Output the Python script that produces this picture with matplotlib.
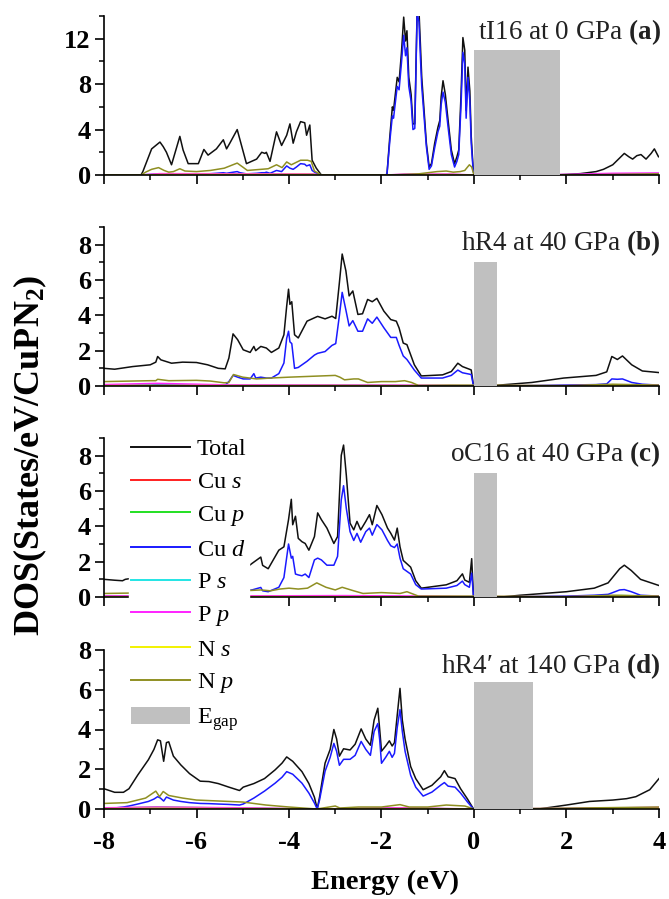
import numpy as np
import matplotlib
matplotlib.use('Agg')
import matplotlib.pyplot as plt
from matplotlib.lines import Line2D
from matplotlib.patches import Patch
from matplotlib.ticker import MultipleLocator

plt.rcParams['font.family'] = ['Liberation Serif', 'DejaVu Serif']
plt.rcParams['mathtext.fontset'] = 'custom'
plt.rcParams['mathtext.rm'] = 'Liberation Serif'
plt.rcParams['mathtext.it'] = 'Liberation Serif:italic'
plt.rcParams['mathtext.bf'] = 'Liberation Serif:bold'
plt.rcParams['axes.unicode_minus'] = False

# ---------------- panel (a) tI16 at 0 GPa ----------------
e_a = [-8.0, -7.2, -7.16, -6.97, -6.79, -6.72, -6.65, -6.61, -6.54, -6.36, -6.29, -6.18,
       -5.96, -5.84, -5.75, -5.57, -5.42, -5.35, -5.28, -5.12, -5.06, -4.92, -4.70, -4.59,
       -4.52, -4.49, -4.41, -4.27, -4.16, -4.05, -3.98, -3.91, -3.84, -3.75, -3.66, -3.62,
       -3.55, -3.50, -3.41, -3.30, -1.90, -1.88, -1.82, -1.765, -1.74, -1.66, -1.62, -1.57,
       -1.52, -1.48, -1.45, -1.41, -1.36, -1.32, -1.28, -1.23, -1.19, -1.16, -1.13, -1.09,
       -1.03, -0.97, -0.92, -0.85, -0.78, -0.74, -0.71, -0.67, -0.62, -0.56, -0.49, -0.42,
       -0.37, -0.33, -0.28, -0.24, -0.20, -0.17, -0.13, -0.09, -0.06, -0.02, 0.0, 1.7,
       2.0, 2.3, 2.64, 2.8, 3.0, 3.1, 3.25, 3.35, 3.43, 3.52, 3.61, 3.72, 3.83, 3.90, 3.99, 4.0]
tot_a = [0, 0, 0.3, 2.3, 2.9, 2.5, 2.0, 1.6, 0.9, 3.4, 2.2, 1.0,
         1.0, 2.25, 1.75, 2.3, 3.1, 2.3, 2.8, 4.0, 3.1, 1.0, 1.4, 2.0,
         1.9, 2.0, 1.2, 3.8, 2.6, 3.5, 4.5, 2.8, 3.8, 4.7, 4.6, 3.5,
         4.4, 1.3, 0.6, 0, 0, 0.15, 3.4, 6.0, 5.7, 8.6, 8.2, 10.7,
         13.9, 11.8, 12.7, 8.6, 7.1, 4.5, 4.5, 14.5, 14.5, 11.6, 8.6, 6.3,
         2.8, 0.73, 1.0, 2.8, 4.2, 4.8, 6.9, 8.3, 7.1, 4.8, 2.2, 1.0,
         1.6, 2.2, 7.1, 12.1, 11.0, 5.7, 9.5, 7.4, 3.4, 0.7, 0, 0,
         0.05, 0.12, 0.3, 0.5, 0.9, 1.3, 1.9, 1.6, 1.4, 1.7, 1.8, 1.4, 1.9, 2.3, 1.6, 1.6]
cud_a = [0, 0, 0.02, 0.05, 0.08, 0.06, 0.05, 0.05, 0.04, 0.1, 0.08, 0.05,
         0.05, 0.1, 0.1, 0.15, 0.2, 0.15, 0.2, 0.3, 0.2, 0.1, 0.15, 0.2,
         0.2, 0.25, 0.15, 0.4, 0.3, 0.8, 0.6, 0.5, 0.7, 1.0, 0.95, 0.8,
         0.9, 0.4, 0.15, 0, 0, 0.15, 3.0, 5.2, 5.0, 7.8, 7.5, 9.8,
         12.3, 10.5, 11.2, 7.8, 6.5, 4.0, 4.1, 14.2, 13.5, 10.5, 7.8, 5.7,
         2.5, 0.5, 0.8, 2.4, 3.8, 4.3, 6.2, 7.3, 6.4, 4.2, 1.8, 0.7,
         1.2, 1.8, 6.2, 10.8, 9.8, 5.0, 8.6, 6.5, 2.8, 0.5, 0, 0,
         0.0, 0.01, 0.02, 0.03, 0.05, 0.06, 0.08, 0.07, 0.06, 0.07, 0.07, 0.06, 0.07, 0.08, 0.07, 0.07]
e_np_a = [-8.0, -7.2, -7.1, -6.97, -6.82, -6.7, -6.6, -6.5, -6.36, -6.25, -6.0, -5.7, -5.4,
          -5.12, -5.0, -4.9, -4.6, -4.45, -4.27, -4.15, -4.05, -3.95, -3.85, -3.75, -3.6,
          -3.52, -3.45, -3.3, -1.9, -1.5, -1.2, -1.0, -0.8, -0.6, -0.45, -0.3, -0.2, -0.1,
          -0.05, 0.0, 2.0, 3.0, 4.0]
np_a = [0, 0, 0.25, 0.5, 0.65, 0.4, 0.25, 0.3, 0.55, 0.35, 0.3, 0.4, 0.6,
        1.05, 0.7, 0.4, 0.5, 0.55, 0.9, 0.65, 1.15, 0.9, 1.1, 1.3, 1.3,
        1.2, 0.35, 0, 0, 0.05, 0.1, 0.2, 0.3, 0.35, 0.25, 0.3, 0.4, 0.9,
        0.7, 0, 0, 0.05, 0.1]
e_sm_a = [-8, -7.2, -6.8, -3.5, -3.3, -1.9, -1.5, -0.5, 0.0, 2.0, 3.0, 4.0]
cus_a = [0, 0, 0.02, 0.03, 0, 0, 0.02, 0.03, 0, 0.01, 0.03, 0.04]
cup_a = [0, 0, 0.02, 0.04, 0, 0, 0.03, 0.04, 0, 0.02, 0.08, 0.12]
ps_a = [0, 0, 0.03, 0.04, 0, 0, 0.02, 0.02, 0, 0.01, 0.03, 0.04]
pp_a = [0, 0, 0.12, 0.1, 0, 0, 0.08, 0.08, 0, 0.05, 0.15, 0.18]
ns_a = [0, 0, 0.04, 0.05, 0, 0, 0.02, 0.03, 0, 0.01, 0.02, 0.03]

# ---------------- panel (b) hR4 at 40 GPa ----------------
e_b = [-8.0, -7.77, -7.38, -7.0, -6.88, -6.84, -6.77, -6.54, -6.30, -6.0, -5.76, -5.53,
       -5.38, -5.30, -5.21, -5.11, -4.99, -4.84, -4.76, -4.72, -4.61, -4.49, -4.38, -4.22,
       -4.11, -4.05, -4.01, -3.98, -3.94, -3.88, -3.80, -3.61, -3.45, -3.38, -3.22, -3.07,
       -2.99, -2.91, -2.85, -2.77, -2.70, -2.62, -2.51, -2.41, -2.30, -2.20, -2.10, -1.95,
       -1.80, -1.68, -1.62, -1.53, -1.45, -1.29, -1.14, -0.68, -0.49, -0.35, -0.25, -0.06,
       -0.01, 0.3, 1.25, 1.94, 2.64, 2.87, 2.98, 3.10, 3.21, 3.41, 3.64, 4.0]
tot_b = [1.0, 0.95, 1.1, 1.2, 1.35, 1.67, 1.48, 1.29, 1.35, 1.33, 1.2, 1.0,
         0.97, 1.58, 2.95, 2.62, 2.05, 1.9, 2.24, 2.0, 2.24, 2.15, 1.9, 2.15,
         2.9, 4.52, 5.48, 4.62, 4.77, 2.9, 2.72, 3.67, 3.86, 3.94, 3.8, 3.95,
         3.82, 5.86, 7.47, 6.52, 5.1, 5.38, 4.05, 4.09, 4.9, 4.77, 4.96, 4.24,
         3.76, 3.67, 3.29, 2.43, 2.34, 1.2, 0.57, 0.63, 0.82, 1.29, 1.1, 0.91,
         0.0, 0.0, 0.2, 0.45, 0.6, 0.8, 1.67, 1.5, 1.7, 1.2, 0.85, 0.76]
cud_b = [0.03, 0.03, 0.04, 0.05, 0.08, 0.1, 0.08, 0.06, 0.06, 0.05, 0.05, 0.05,
         0.05, 0.25, 0.6, 0.5, 0.4, 0.4, 0.7, 0.45, 0.5, 0.45, 0.45, 0.7,
         1.3, 2.7, 3.1, 2.5, 2.4, 1.0, 1.05, 1.4, 1.75, 1.85, 1.95, 2.3,
         2.4, 4.0, 5.3, 4.3, 3.4, 3.7, 3.1, 3.1, 3.8, 3.55, 3.9, 3.3,
         2.75, 2.75, 2.3, 1.7, 1.5, 0.9, 0.45, 0.45, 0.6, 0.9, 0.75, 0.65,
         0.0, 0.0, 0.02, 0.05, 0.08, 0.12, 0.4, 0.38, 0.4, 0.2, 0.1, 0.05]
e_np_b = [-8, -7.0, -6.88, -6.84, -6.6, -6.0, -5.7, -5.4, -5.3, -5.2, -5.0, -4.7, -4.4, -4.0,
          -3.5, -3.0, -2.9, -2.8, -2.6, -2.5, -2.4, -2.3, -2.0, -1.7, -1.5, -1.35, -1.2, -0.5,
          0.0, 2.0, 3.0, 4.0]
np_b = [0.25, 0.3, 0.3, 0.38, 0.3, 0.32, 0.28, 0.18, 0.2, 0.65, 0.5, 0.4, 0.45, 0.5,
        0.55, 0.6, 0.5, 0.35, 0.4, 0.4, 0.3, 0.2, 0.25, 0.25, 0.3, 0.2, 0.03, 0.05,
        0.05, 0.02, 0.1, 0.05]
e_sm_b = [-8, -6.85, -5.3, -3.0, -1.2, 0.0, 2.0, 3.2, 4.0]
cus_b = [0.02, 0.03, 0.02, 0.03, 0.02, 0.01, 0.01, 0.03, 0.02]
cup_b = [0.03, 0.04, 0.03, 0.04, 0.02, 0.01, 0.02, 0.06, 0.04]
ps_b = [0.02, 0.03, 0.02, 0.02, 0.01, 0.01, 0.01, 0.02, 0.02]
pp_b = [0.08, 0.15, 0.06, 0.05, 0.04, 0.02, 0.02, 0.06, 0.04]
ns_b = [0.02, 0.03, 0.02, 0.02, 0.01, 0.01, 0.01, 0.02, 0.02]

# ---------------- panel (c) oC16 at 40 GPa ----------------
e_c = [-8.0, -7.77, -7.6, -7.54, -7.3, -7.0, -6.6, -6.2, -5.8, -5.4, -5.1, -4.8,
       -4.61, -4.57, -4.45, -4.22, -4.11, -4.01, -3.95, -3.92, -3.86, -3.80, -3.72, -3.65,
       -3.57, -3.45, -3.38, -3.30, -3.18, -3.03, -2.95, -2.87, -2.82, -2.76, -2.68, -2.60,
       -2.53, -2.45, -2.34, -2.26, -2.20, -2.10, -1.99, -1.87, -1.80, -1.72, -1.66, -1.60,
       -1.53, -1.37, -1.26, -1.14, -0.6, -0.37, -0.25, -0.2, -0.1, -0.05, -0.01, 0.6,
       1.0, 2.0, 2.6, 2.9, 3.15, 3.25, 3.4, 3.6, 4.0]
tot_c = [1.0, 0.95, 0.92, 1.0, 1.1, 1.2, 1.3, 1.25, 1.3, 1.1, 1.3, 1.9,
         2.26, 1.79, 1.6, 2.65, 2.84, 4.38, 5.53, 4.09, 4.57, 3.32, 3.13, 3.03,
         2.65, 3.42, 4.76, 4.38, 3.9, 3.03, 3.42, 8.02, 8.6, 6.87, 4.18, 3.8,
         4.28, 3.8, 4.28, 4.66, 4.09, 5.18, 4.66, 3.9, 3.61, 3.22, 3.9, 2.84,
         2.07, 1.69, 0.92, 0.5, 0.69, 0.92, 1.31, 0.96, 0.83, 2.17, 0.0, 0.0,
         0.1, 0.3, 0.5, 0.8, 1.6, 1.8, 1.5, 1.0, 0.65]
cud_c = [0.05, 0.05, 0.05, 0.05, 0.1, 0.15, 0.2, 0.2, 0.25, 0.2, 0.3, 0.4,
         0.54, 0.35, 0.3, 0.55, 1.1, 3.0, 2.2, 2.3, 1.3, 1.25, 1.2, 1.3,
         1.1, 2.1, 2.2, 2.1, 1.8, 1.8, 2.3, 5.5, 6.3, 5.0, 3.7, 3.2,
         3.6, 3.1, 3.7, 3.9, 3.5, 4.1, 3.8, 3.2, 2.9, 2.8, 3.0, 2.2,
         1.6, 1.3, 0.7, 0.45, 0.5, 0.65, 0.9, 0.7, 0.55, 1.35, 0.0, 0.0,
         0.02, 0.05, 0.1, 0.15, 0.4, 0.42, 0.3, 0.1, 0.05]
e_np_c = [-8, -7.5, -7.0, -6.0, -5.0, -4.6, -4.4, -4.2, -4.0, -3.8, -3.6, -3.4, -3.2,
          -3.0, -2.85, -2.6, -2.4, -2.0, -1.6, -1.45, -1.2, 0.0, 2.0, 3.0, 4.0]
np_c = [0.2, 0.22, 0.25, 0.3, 0.35, 0.4, 0.35, 0.45, 0.5, 0.45, 0.5, 0.8, 0.55,
        0.4, 0.55, 0.35, 0.2, 0.25, 0.2, 0.3, 0.05, 0.05, 0.02, 0.1, 0.05]
e_sm_c = [-8, -6.0, -4.0, -2.8, -1.2, 0.0, 2.0, 3.2, 4.0]
cus_c = [0.02, 0.02, 0.03, 0.03, 0.02, 0.01, 0.01, 0.03, 0.02]
cup_c = [0.03, 0.03, 0.04, 0.04, 0.02, 0.01, 0.02, 0.08, 0.04]
ps_c = [0.02, 0.02, 0.02, 0.02, 0.01, 0.01, 0.01, 0.02, 0.02]
pp_c = [0.06, 0.06, 0.07, 0.08, 0.05, 0.02, 0.02, 0.06, 0.04]
ns_c = [0.02, 0.02, 0.02, 0.02, 0.01, 0.01, 0.01, 0.02, 0.02]

# ---------------- panel (d) hR4' at 140 GPa ----------------
e_d = [-8.0, -7.77, -7.58, -7.46, -7.27, -7.04, -6.92, -6.84, -6.78, -6.71, -6.65, -6.60,
       -6.50, -6.34, -6.15, -5.92, -5.73, -5.53, -5.30, -5.07, -4.99, -4.76, -4.53, -4.30,
       -4.15, -4.05, -3.92, -3.72, -3.57, -3.45, -3.39, -3.34, -3.22, -3.11, -3.03, -2.97,
       -2.91, -2.82, -2.68, -2.57, -2.44, -2.34, -2.24, -2.16, -2.08, -2.04, -2.00, -1.91,
       -1.83, -1.77, -1.72, -1.66, -1.60, -1.55, -1.49, -1.37, -1.26, -1.10, -0.91, -0.72,
       -0.64, -0.56, -0.41, -0.29, -0.14, -0.01, 1.4, 2.0, 2.5, 3.0, 3.3, 3.5, 3.8, 4.0]
tot_d = [1.02, 0.84, 0.84, 1.02, 1.71, 2.48, 3.0, 3.48, 3.43, 2.4, 3.34, 3.38,
         2.66, 2.22, 1.78, 1.4, 1.38, 1.28, 1.1, 0.93, 1.1, 1.28, 1.53, 1.97,
         2.31, 2.62, 2.4, 1.88, 1.28, 0.59, 0.0, 0.59, 2.31, 3.0, 4.0, 3.52,
         2.66, 3.03, 2.97, 3.26, 4.03, 3.52, 3.21, 4.47, 5.07, 4.03, 2.91, 3.17,
         3.43, 3.17, 3.34, 4.72, 6.07, 4.47, 3.52, 2.14, 1.53, 0.97, 1.19, 1.62,
         1.93, 1.62, 1.53, 1.02, 0.5, 0.0, 0.0, 0.2, 0.38, 0.45, 0.52, 0.62, 0.97, 1.53]
cud_d = [0.05, 0.05, 0.1, 0.15, 0.25, 0.38, 0.5, 0.62, 0.55, 0.4, 0.6, 0.55,
         0.45, 0.38, 0.32, 0.28, 0.27, 0.25, 0.23, 0.2, 0.25, 0.55, 0.9, 1.3,
         1.6, 1.88, 1.75, 1.3, 0.8, 0.3, 0.0, 0.45, 1.9, 2.6, 3.3, 2.9,
         2.2, 2.5, 2.5, 2.7, 3.4, 3.0, 2.7, 3.9, 4.3, 3.5, 2.3, 2.6,
         2.9, 2.6, 2.8, 4.1, 5.0, 3.9, 2.9, 1.7, 1.1, 0.65, 0.85, 1.2,
         1.33, 1.15, 1.1, 0.8, 0.35, 0.0, 0.0, 0.01, 0.02, 0.03, 0.03, 0.04, 0.05, 0.06]
e_np_d = [-8, -7.5, -7.1, -6.88, -6.8, -6.72, -6.6, -6.3, -6.0, -5.5, -5.0, -4.5, -4.0,
          -3.4, -3.0, -2.9, -2.5, -2.0, -1.6, -1.4, -1.0, -0.6, -0.2, 0.0, 2.0, 4.0]
np_d = [0.28, 0.32, 0.55, 0.9, 0.62, 0.88, 0.68, 0.55, 0.45, 0.4, 0.35, 0.2, 0.1,
        0.0, 0.15, 0.05, 0.1, 0.1, 0.22, 0.1, 0.1, 0.2, 0.15, 0.0, 0.04, 0.1]
e_sm_d = [-8, -6.85, -5.0, -3.4, -2.0, -1.6, 0.0, 2.0, 4.0]
cus_d = [0.02, 0.03, 0.02, 0.0, 0.02, 0.03, 0.0, 0.01, 0.03]
cup_d = [0.03, 0.1, 0.04, 0.0, 0.03, 0.04, 0.0, 0.02, 0.06]
ps_d = [0.02, 0.03, 0.02, 0.0, 0.01, 0.02, 0.0, 0.01, 0.02]
pp_d = [0.06, 0.1, 0.06, 0.0, 0.05, 0.06, 0.0, 0.03, 0.08]
ns_d = [0.02, 0.03, 0.02, 0.0, 0.01, 0.02, 0.0, 0.01, 0.02]

# band gap boxes
gap_width = [1.85, 0.5, 0.5, 1.27]
gap_height = [11.0, 7.0, 7.0, 6.4]

titles = ['tI16 at 0 GPa', 'hR4 at 40 GPa', 'oC16 at 40 GPa', 'hR4\u2032 at 140 GPa']
tags = ['(a)', '(b)', '(c)', '(d)']
ytop = [14, 9, 9, 8]
ymajor = [4, 2, 2, 2]

labels = ['Total', 'Cu $\\mathit{s}$', 'Cu $\\mathit{p}$', 'Cu $\\mathit{d}$',
          'P $\\mathit{s}$', 'P $\\mathit{p}$', 'N $\\mathit{s}$', 'N $\\mathit{p}$']
colors = ['#101010', '#ff2020', '#22e022', '#1a1aff', '#22e5e5', '#ff22ff', '#f2f200', '#8f8f22']

panels = [
    (e_a, tot_a, cud_a, e_np_a, np_a, e_sm_a, cus_a, cup_a, ps_a, pp_a, ns_a),
    (e_b, tot_b, cud_b, e_np_b, np_b, e_sm_b, cus_b, cup_b, ps_b, pp_b, ns_b),
    (e_c, tot_c, cud_c, e_np_c, np_c, e_sm_c, cus_c, cup_c, ps_c, pp_c, ns_c),
    (e_d, tot_d, cud_d, e_np_d, np_d, e_sm_d, cus_d, cup_d, ps_d, pp_d, ns_d),
]

W, H = 669, 899
fig = plt.figure(figsize=(W / 100, H / 100), dpi=100)
fig.patch.set_facecolor('white')

left, right = 104 / W, 659 / W
bottoms_px = [175, 386, 597, 809]
height = 159 / H

axes = []
for i, (e, tot, cud, enp, npv, esm, cus, cup, ps, pp, ns) in enumerate(panels):
    ax = fig.add_axes([left, 1 - bottoms_px[i] / H, right - left, height])
    axes.append(ax)
    lw = 1.1
    # same stacking order as the original plot
    ax.plot(e, tot, color=colors[0], lw=lw)
    ax.plot(esm, cus, color=colors[1], lw=lw)
    ax.plot(esm, cup, color=colors[2], lw=lw)
    ax.plot(e, cud, color=colors[3], lw=lw)
    ax.plot(esm, ps, color=colors[4], lw=lw)
    ax.plot(esm, pp, color=colors[5], lw=lw)
    ax.plot(esm, ns, color=colors[6], lw=lw)
    ax.plot(enp, npv, color=colors[7], lw=lw)
    ax.bar(0, gap_height[i], width=gap_width[i], align='edge', color='#c0c0c0',
           edgecolor='none', zorder=3)

    ax.set_xlim(-8, 4)
    ax.set_ylim(0, ytop[i])
    ax.spines['top'].set_visible(False)
    ax.spines['right'].set_visible(False)
    for s in ['left', 'bottom']:
        ax.spines[s].set_linewidth(1.2)
    ax.xaxis.set_major_locator(MultipleLocator(2))
    ax.xaxis.set_minor_locator(MultipleLocator(1))
    ax.yaxis.set_major_locator(MultipleLocator(ymajor[i]))
    ax.yaxis.set_minor_locator(MultipleLocator(ymajor[i] / 2))
    ax.tick_params(which='major', direction='out', length=6.5, width=1.2, labelsize=19, pad=3)
    ax.tick_params(which='minor', direction='out', length=3.8, width=1.1)
    for t in ax.get_yticklabels():
        t.set_fontweight('bold')
    if i < 3:
        ax.tick_params(labelbottom=False)
    else:
        ax.tick_params(axis='x', pad=9)
        for t in ax.get_xticklabels():
            t.set_fontweight('bold')

    ax.text(1.003, 1 - 16 / 159, titles[i] + ' $\\mathbf{' + tags[i] + '}$',
            transform=ax.transAxes, ha='right', va='center', fontsize=19.5, color='#222222')

handles = [Line2D([], [], color=c, lw=1.4) for c in colors]
handles.append(Patch(facecolor='#c0c0c0', edgecolor='none'))
leg = fig.legend(handles, labels + ['E$_\\mathrm{gap}$'], loc='upper left',
                 bbox_to_anchor=(129 / W, 1 - 436 / H), borderaxespad=0, fontsize=17.5,
                 handlelength=2.4, handletextpad=0.3, labelspacing=0.44, borderpad=0.1,
                 frameon=True, fancybox=False, framealpha=1.0, facecolor='white',
                 edgecolor='white')

fig.text(30 / W, 0.494, 'DOS(States/eV/CuPN$_\\mathbf{2}$)', rotation=90, ha='center',
         va='center', fontsize=26, fontweight='bold')
fig.text(0.576, 0.018, 'Energy (eV)', ha='center', va='center', fontsize=20.5,
         fontweight='bold')

fig.savefig('out.png', dpi=100, facecolor='white')
